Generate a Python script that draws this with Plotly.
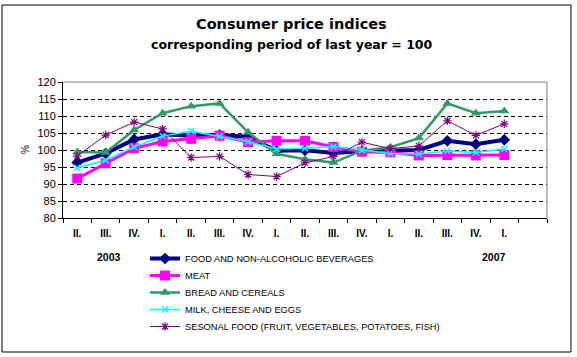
import plotly.graph_objects as go

# ---- data ----
quarters = ["II.", "III.", "IV.", "I.", "II.", "III.", "IV.", "I.",
            "II.", "III.", "IV.", "I.", "II.", "III.", "IV.", "I."]
years = ["2003", "2007"]
food = [96.3, 99.0, 103.1, 104.6, 104.2, 104.4, 103.9, 99.8, 99.9, 99.1, 99.6, 99.7, 100.0, 102.7, 101.7, 103.0]
meat = [91.6, 96.1, 100.5, 102.5, 103.3, 104.2, 102.3, 102.7, 102.7, 100.9, 99.5, 99.3, 98.4, 98.5, 98.4, 98.5]
bread = [99.4, 99.3, 105.9, 110.8, 112.9, 113.7, 105.2, 98.9, 97.3, 96.3, 99.8, 100.8, 103.5, 113.7, 110.8, 111.5]
milk = [94.8, 97.0, 100.9, 104.1, 105.5, 104.0, 102.4, 100.3, 100.5, 101.0, 99.9, 99.0, 98.8, 99.7, 99.3, 100.3]
seasonal = [98.2, 104.4, 108.2, 106.2, 97.8, 98.1, 92.8, 92.2, 96.2, 98.1, 102.3, 100.4, 101.2, 108.6, 104.3, 107.7]
series_names = ["FOOD AND NON-ALCOHOLIC BEVERAGES", "MEAT", "BREAD AND CEREALS",
                "MILK, CHEESE AND EGGS", "SESONAL FOOD (FRUIT, VEGETABLES, POTATOES, FISH)"]
y_ticks = [80, 85, 90, 95, 100, 105, 110, 115, 120]

W, H = 577, 357
L, R, T, B = 63, 547, 82, 218
FONT = "Liberation Sans, Arial, sans-serif"
TFONT = "DejaVu Sans, Verdana, sans-serif"

def px_x(px):
    return (px - L) / (R - L)

def px_y(py):
    return (B - py) / (B - T)

x = list(range(len(quarters)))

styles = [
    dict(color="#000080", lw=4, sym="diamond", size=9, mlw=0),
    dict(color="#FF00FF", lw=3, sym="square", size=10, mlw=0),
    dict(color="#339966", lw=2.5, sym="triangle-up", size=9, mlw=0),
    dict(color="#00FFFF", lw=1.5, sym="x-thin-open", size=6, mlw=1.5),
    dict(color="#800080", lw=1, sym="asterisk-open", size=7, mlw=1.2),
]
legend_rows = [258.5, 275.5, 292.5, 309.5, 326.5]
legend_ids = ["legend", "legend2", "legend3", "legend4", "legend5"]

fig = go.Figure()
for name, vals, st, lid in zip(series_names, [food, meat, bread, milk, seasonal], styles, legend_ids):
    fig.add_trace(go.Scatter(
        x=x, y=vals, name=name, mode="lines+markers", legend=lid,
        line=dict(color=st["color"], width=st["lw"]),
        marker=dict(symbol=st["sym"], size=st["size"], color=st["color"],
                    line=dict(color=st["color"], width=st["mlw"])),
    ))

layout_legends = {}
for lid, row in zip(legend_ids, legend_rows):
    layout_legends[lid] = dict(
        xref="container", yref="container",
        x=145 / W, y=1 - row / H, xanchor="left", yanchor="middle",
        font=dict(family=FONT, size=9.3, color="black"),
        itemwidth=30,
        bgcolor="rgba(0,0,0,0)", borderwidth=0)

fig.update_layout(
    width=W, height=H, autosize=False,
    margin=dict(l=L, r=W - R, t=T, b=H - B, pad=0, autoexpand=False),
    paper_bgcolor="white", plot_bgcolor="white",
    font=dict(family=FONT, size=11, color="black"),
    showlegend=True,
    **layout_legends,
)

fig.update_xaxes(
    automargin=False,
    range=[-0.5, len(quarters) + 0.5],
    tickmode="array", tickvals=x, ticktext=quarters,
    ticks="", ticklabelstandoff=6,
    tickfont=dict(family=FONT, size=10, color="black", weight="bold"),
    showgrid=False, zeroline=False,
    showline=True, linecolor="black", linewidth=1,
    minor=dict(tick0=-0.5, dtick=1, ticks="outside", ticklen=4,
               tickcolor="black", tickwidth=1, showgrid=False),
)
fig.update_yaxes(
    automargin=False,
    range=[80, 120], tickmode="array", tickvals=y_ticks,
    ticks="outside", ticklen=4, tickcolor="black",
    tickfont=dict(family=FONT, size=11, color="black"),
    showgrid=True, gridcolor="black", gridwidth=1, griddash="4px,3px",
    zeroline=False, showline=True, linecolor="black", linewidth=1,
)

# plot-area frame (top & right, gray)
fig.add_shape(type="line", xref="paper", yref="paper", x0=0, x1=1, y0=1, y1=1,
              line=dict(color="#808080", width=1), layer="above")
fig.add_shape(type="line", xref="paper", yref="paper", x0=1, x1=1, y0=0, y1=1,
              line=dict(color="#808080", width=1), layer="above")
# chart border
fig.add_shape(type="rect", xref="paper", yref="paper",
              x0=px_x(2), x1=px_x(571), y0=px_y(352), y1=px_y(5),
              line=dict(color="black", width=1), layer="above")

# titles
fig.add_annotation(text="<b>Consumer price indices</b>", xref="paper", yref="paper",
                   x=px_x(291), y=px_y(24), showarrow=False, xanchor="center", yanchor="middle",
                   font=dict(family=TFONT, size=14.5, color="black"))
fig.add_annotation(text="<b>corresponding period of last year = 100</b>", xref="paper", yref="paper",
                   x=px_x(292), y=px_y(44), showarrow=False, xanchor="center", yanchor="middle",
                   font=dict(family=TFONT, size=12.5, color="black"))
# y label
fig.add_annotation(text="%", xref="paper", yref="paper", x=px_x(25), y=px_y(150),
                   showarrow=False, textangle=-90, xanchor="center", yanchor="middle",
                   font=dict(family=FONT, size=10, color="black"))
# years
for yr, pxx in zip(years, [109, 494]):
    fig.add_annotation(text="<b>%s</b>" % yr, xref="paper", yref="paper",
                       x=px_x(pxx), y=px_y(256.5), showarrow=False,
                       xanchor="center", yanchor="middle",
                       font=dict(family=FONT, size=10.5, color="black"))

fig.write_html("out.html", config={"displayModeBar": False},
               post_script="document.body.style.margin='0px';")
